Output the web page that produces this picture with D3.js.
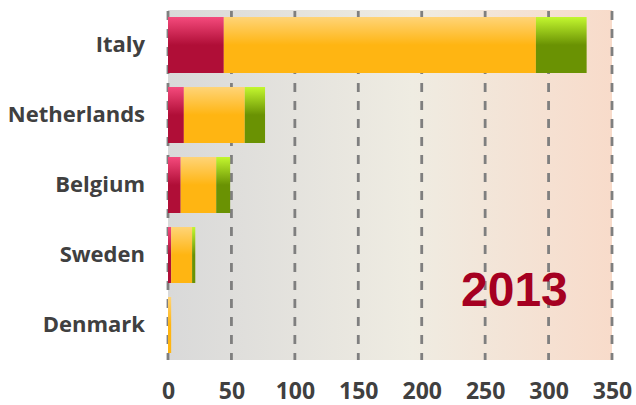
<!DOCTYPE html>
<html><head><meta charset="utf-8">
<script src="https://cdn.jsdelivr.net/npm/d3@7"></script>
<style>body{margin:0;background:#fff}svg{display:block}</style>
</head><body>
<svg id="c" width="636" height="405"></svg>
<script>
const categories = ["Italy","Netherlands","Belgium","Sweden","Denmark"];
const seriesA = [44, 12.5, 10, 2.5, 0];
const seriesB = [246, 48, 28, 16.5, 2.5];
const seriesC = [40, 16, 11, 2.5, 0];
const ticks = [0,50,100,150,200,250,300,350];
const yearLabel = "2013";

const svg = d3.select("#c");
const m = {l:168, r:612, t:10, b:360};
const x = d3.scaleLinear().domain([0,350]).range([m.l, m.r]);
const y = d3.scaleBand().domain(categories).range([m.t, m.b]).paddingInner(0.2).paddingOuter(0.1);

const defs = svg.append("defs");
const bg = defs.append("linearGradient").attr("id","bg").attr("x1","0").attr("x2","1").attr("y1","0").attr("y2","0");
bg.append("stop").attr("offset","0").attr("stop-color","#d9d9d9");
bg.append("stop").attr("offset","0.55").attr("stop-color","#efece2");
bg.append("stop").attr("offset","1").attr("stop-color","#f8dbca");
function vg(id, top, mid){
  const g = defs.append("linearGradient").attr("id",id).attr("x1","0").attr("x2","0").attr("y1","0").attr("y2","1");
  g.append("stop").attr("offset","0").attr("stop-color",top);
  g.append("stop").attr("offset","0.5").attr("stop-color",mid);
  g.append("stop").attr("offset","1").attr("stop-color",mid);
}
vg("gA","#f44a7c","#b00e37");
vg("gB","#ffd477","#ffb512");
vg("gC","#c3f72f","#6a9203");

svg.append("rect").attr("x",x(0)).attr("y",m.t).attr("width",x(350)-x(0)).attr("height",m.b-m.t).attr("fill","url(#bg)");

svg.append("g").selectAll("line").data(ticks).join("line")
  .attr("x1",d=>x(d)).attr("x2",d=>x(d)).attr("y1",m.t).attr("y2",m.b)
  .attr("stroke","#7f7f7f").attr("stroke-width",2.8).attr("stroke-dasharray","9,9").attr("stroke-dashoffset",-1);

const series = [seriesA, seriesB, seriesC];
const fills = ["url(#gA)","url(#gB)","url(#gC)"];
categories.forEach((c,i)=>{
  let acc = 0;
  series.forEach((s,j)=>{
    const v = s[i];
    if (v>0){
      svg.append("rect").attr("x",x(acc)).attr("y",y(c)).attr("width",x(acc+v)-x(acc)).attr("height",y.bandwidth()).attr("fill",fills[j]);
    }
    acc += v;
  });
});

const xa = svg.append("g").attr("transform",`translate(0,${m.b})`).call(d3.axisBottom(x).tickValues(ticks).tickSize(0).tickPadding(23));
xa.select(".domain").remove();
xa.selectAll("text").attr("font-family","'Open Sans'").attr("font-weight","700").attr("font-size","23px").attr("fill","#404040");

const ya = svg.append("g").attr("transform",`translate(${m.l-23},0)`).call(d3.axisLeft(y).tickSize(0).tickPadding(0));
ya.select(".domain").remove();
ya.selectAll("text").attr("font-family","'Open Sans'").attr("font-weight","700").attr("font-size","22px").attr("fill","#404040");

svg.append("text").attr("x",x(231)).attr("y",306).text(yearLabel)
  .attr("font-family","'Liberation Sans', Arial").attr("font-weight","bold").attr("font-size","48px").attr("fill","#a50021");
</script>
</body></html>
